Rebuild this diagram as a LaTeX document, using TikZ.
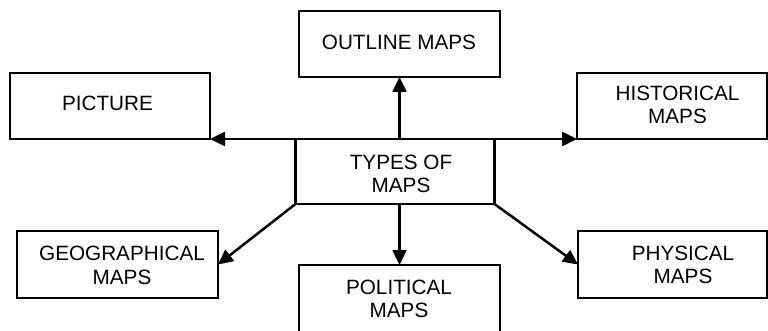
\documentclass[tikz,border=0pt]{standalone}
\usepackage{fontspec}
\setmainfont{Liberation Sans}
\usetikzlibrary{arrows.meta}

\tikzset{
  mapbox/.style 2 args={draw, line width=2.5pt, inner sep=0pt, outer sep=0pt,
    minimum width=#1, minimum height=#2},
  boxtext/.style={font=\fontsize{20.7}{23.5}\selectfont, align=center, inner sep=0pt},
  arr/.style={line width=2.5pt, -{Triangle[length=15pt, width=14pt]}}
}

\begin{document}
\begin{tikzpicture}[x=1pt, y=-1pt]
  \useasboundingbox (0,0) rectangle (768,331);
  \clip (0,0) rectangle (768,331);
  \fill[white] (0,0) rectangle (768,331);

  % boxes
  \node[mapbox={201pt}{66pt}, label={[boxtext, xshift=-0.5pt, yshift=2pt]center:OUTLINE MAPS}]
    (outline) at (399.5,44) {};
  \node[mapbox={200pt}{66pt}, label={[boxtext, xshift=-2.5pt, yshift=3pt]center:PICTURE}]
    (picture) at (110,106) {};
  \node[mapbox={190pt}{66pt}, label={[boxtext, xshift=5.5pt, yshift=1pt]center:{HISTORICAL\\MAPS}}]
    (historical) at (672,106) {};
  \node[mapbox={199pt}{65pt}, label={[boxtext, xshift=6pt, yshift=-2.5pt]center:{TYPES OF\\MAPS}}]
    (types) at (395,171.5) {};
  \node[mapbox={201pt}{67pt}, label={[boxtext, xshift=4.5pt, yshift=-1pt]center:{GEOGRAPHICAL\\MAPS}}]
    (geo) at (117.5,264.5) {};
  \node[mapbox={189pt}{67pt}, label={[boxtext, xshift=10.5pt, yshift=-0.5pt]center:{PHYSICAL\\MAPS}}]
    (physical) at (672.5,264.5) {};
  \node[mapbox={201pt}{72pt}, label={[boxtext, xshift=-0.5pt, yshift=2pt]center:{POLITICAL\\MAPS}}]
    (political) at (399.5,301) {};

  % connectors
  \draw[arr] (outline.south |- types.north) -- (outline.south);
  \draw[arr] (types.north west) -- (picture.south east);
  \draw[arr] (types.north east) -- (historical.south west);
  \draw[arr] (political.north |- types.south) -- (political.north);
  \draw[arr] (types.south west) -- (geo.east);
  \draw[arr] (types.south east) -- (physical.west);
\end{tikzpicture}
\end{document}
